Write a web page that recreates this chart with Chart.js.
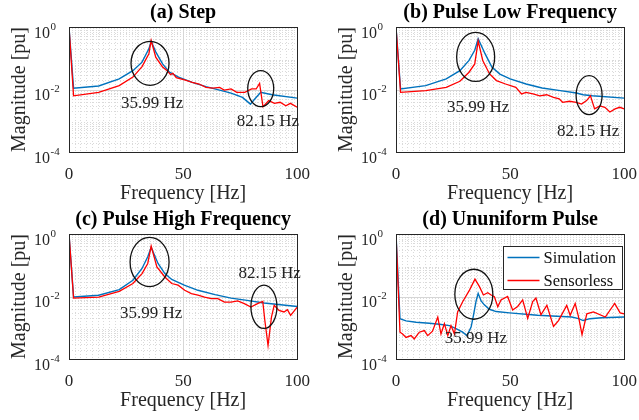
<!DOCTYPE html>
<html>
<head>
<script src="https://cdn.jsdelivr.net/npm/chart.js@4.4.0/dist/chart.umd.min.js"></script>
<style>
  html, body { margin: 0; padding: 0; background: #fff; overflow: hidden; width: 639px; height: 420px; }
  .panel { position: absolute; width: 322px; height: 207px; }
  #pa { left: 0; top: 0; }
  #pb { left: 327px; top: 0; }
  #pc { left: 0; top: 207px; }
  #pd { left: 327px; top: 207px; }
</style>
</head>
<body>
<div class="panel" id="pa"><canvas id="ca" width="322" height="207"></canvas></div>
<div class="panel" id="pb"><canvas id="cb" width="322" height="207"></canvas></div>
<div class="panel" id="pc"><canvas id="cc" width="322" height="207"></canvas></div>
<div class="panel" id="pd"><canvas id="cd" width="322" height="207"></canvas></div>
<script>
// ---- data (frequency in Hz, magnitude in pu) ----
const seriesNames = ["Simulation", "Sensorless"];

// (a) Step
const stepSimFreq = [0, 2, 13, 22, 28, 32, 35, 36, 38, 41, 44, 48, 54, 60, 66, 71, 76, 79.5, 81, 84, 89, 100];
const stepSimMag = [1, 0.011, 0.013, 0.022, 0.04, 0.075, 0.2, 0.35, 0.16, 0.066, 0.036, 0.025, 0.017, 0.0124, 0.0096, 0.0077, 0.0056, 0.0034, 0.0046, 0.0081, 0.0068, 0.0053];
const stepSenFreq = [0, 2, 13, 22, 28, 32, 35, 36, 38, 41, 43, 44.5, 45.5, 47, 51, 54, 57, 60, 63, 66, 68, 71, 73.5, 77, 80, 82, 83.5, 85, 87.5, 90, 92.5, 95, 97, 100];
const stepSenMag = [1, 0.0063, 0.0081, 0.0133, 0.025, 0.054, 0.14, 0.37, 0.108, 0.052, 0.04, 0.03, 0.033, 0.024, 0.02, 0.017, 0.015, 0.0117, 0.011, 0.0117, 0.0096, 0.0104, 0.0081, 0.0081, 0.0104, 0.0104, 0.0158, 0.0028, 0.0044, 0.0036, 0.0039, 0.003, 0.0036, 0.0027];

// (b) Pulse Low Frequency
const lowSimFreq = [0, 2, 13, 22, 28, 32, 34.5, 36, 39, 42, 45.5, 50, 57, 64, 72, 79, 82, 86, 100];
const lowSimMag = [1, 0.0104, 0.0133, 0.022, 0.04, 0.085, 0.18, 0.42, 0.14, 0.052, 0.031, 0.022, 0.015, 0.0112, 0.0092, 0.0077, 0.0068, 0.0063, 0.0053];
const lowSenFreq = [0, 2, 13, 22, 28, 32, 34.5, 36, 38, 41, 44, 48, 52.5, 55, 57, 60, 63, 66, 69, 71.5, 73, 76, 79, 81.3, 83.5, 85.2, 87, 89.3, 91.5, 93.7, 96, 98, 100];
const lowSenMag = [1, 0.0081, 0.0092, 0.0117, 0.0183, 0.0357, 0.066, 0.355, 0.085, 0.0315, 0.0193, 0.015, 0.0117, 0.0072, 0.0081, 0.0072, 0.0063, 0.0068, 0.0056, 0.005, 0.0039, 0.0042, 0.0039, 0.0034, 0.0044, 0.0063, 0.0024, 0.003, 0.0027, 0.0019, 0.0024, 0.0027, 0.0024];

// (c) Pulse High Frequency
const highSimFreq = [0, 2, 13, 22, 28, 32, 34.5, 36, 39, 42, 45, 50.5, 56.5, 64, 71, 78, 85.5, 100];
const highSimMag = [1, 0.0096, 0.011, 0.0166, 0.033, 0.079, 0.187, 0.372, 0.114, 0.054, 0.035, 0.023, 0.0158, 0.0115, 0.0089, 0.0075, 0.0062, 0.0048];
const highSenFreq = [0, 2, 13, 22, 28, 32, 34.5, 36, 38.5, 42, 45, 47.8, 50.7, 53.6, 56.5, 59.4, 62.3, 65.2, 68.1, 71, 73.9, 76.8, 79.7, 82.6, 84.9, 85.8, 87.2, 88.7, 89.9, 92, 94.2, 95.7, 97.1, 100];
const highSenMag = [1, 0.0089, 0.0096, 0.0147, 0.026, 0.054, 0.114, 0.41, 0.089, 0.042, 0.026, 0.023, 0.0158, 0.0123, 0.011, 0.0096, 0.0085, 0.0085, 0.0066, 0.0066, 0.0072, 0.0059, 0.0046, 0.0059, 0.007, 0.0017, 0.00027, 0.0022, 0.0052, 0.0036, 0.0032, 0.0038, 0.0025, 0.0046];

// (d) Ununiform Pulse
const unuSimFreq = [0, 1.75, 4.4, 8.8, 14.6, 19, 23.4, 26.3, 29.2, 31.1, 32.9, 33.9, 35.1, 36, 37.3, 38.7, 40.9, 43.9, 49.7, 62, 77, 80, 82, 85, 90, 100];
const unuSimMag = [1, 0.00195, 0.00166, 0.0015, 0.0014, 0.0013, 0.00117, 0.00093, 0.00072, 0.00056, 0.00105, 0.0024, 0.0072, 0.0126, 0.0072, 0.0054, 0.0039, 0.0033, 0.003, 0.0025, 0.0022, 0.00195, 0.0017, 0.00195, 0.0021, 0.0022];
const unuSenFreq = [0, 1.75, 2.9, 4.4, 6.6, 8, 10.2, 12.4, 13.9, 16, 18.3, 19.7, 21.2, 22.7, 24.1, 25.6, 27, 29.2, 32.2, 34.6, 36.5, 38.3, 40.2, 41.7, 43.1, 44.6, 46, 48.9, 51.1, 53.3, 55.5, 57.7, 59.9, 61.3, 63.5, 66.1, 69, 71.2, 74.8, 76.3, 78.5, 80, 81.5, 83.6, 86.5, 91.7, 95.8, 98.2, 100];
const unuSenMag = [1, 0.00072, 0.00063, 0.00049, 0.00056, 0.00044, 0.00072, 0.00081, 0.00056, 0.00078, 0.0022, 0.00063, 0.00135, 0.00056, 0.00117, 0.00063, 0.0032, 0.0068, 0.016, 0.036, 0.021, 0.0112, 0.0132, 0.0112, 0.0098, 0.0047, 0.0078, 0.01, 0.0037, 0.0048, 0.0078, 0.002, 0.0069, 0.0089, 0.0026, 0.0052, 0.0011, 0.0017, 0.0052, 0.0025, 0.006, 0.0022, 0.0006, 0.0028, 0.0032, 0.0022, 0.006, 0.003, 0.0028];

// axis ticks
const xTickValues = [0, 50, 100];
const yTickValues = [1e-4, 1e-2, 1];
const yTickExponents = ["-4", "-2", "0"];

const simColor = "#0072BD";
const senColor = "#FF0000";
const serif = "'Liberation Serif', 'Times New Roman', serif";
const axisInk = "#262626";

function pts(fs, ms) {
  return fs.map((f, i) => ({ x: f, y: ms[i] }));
}

// grid values: minor every 2.5 Hz, log minors 2..9 per decade
const xMinor = [];
for (let f = 2.5; f < 100; f += 2.5) if (f !== 50) xMinor.push(f);
const yMinor = [];
for (let e = -4; e < 0; e++) for (let k = 2; k <= 9; k++) yMinor.push(k * Math.pow(10, e));

const decor = {
  id: "decor",
  beforeDatasetsDraw(chart) {
    const { ctx, chartArea: a, scales: { x, y } } = chart;
    ctx.save();
    ctx.lineWidth = 1;
    ctx.strokeStyle = "#dadada";
    ctx.setLineDash([1, 2]);
    xMinor.forEach(f => {
      const px = Math.round(x.getPixelForValue(f)) + 0.5;
      ctx.beginPath(); ctx.moveTo(px, a.top); ctx.lineTo(px, a.bottom); ctx.stroke();
    });
    yMinor.forEach(v => {
      const py = Math.round(y.getPixelForValue(v)) + 0.5;
      ctx.beginPath(); ctx.moveTo(a.left, py); ctx.lineTo(a.right, py); ctx.stroke();
    });
    ctx.setLineDash([]);
    ctx.strokeStyle = "#d6d6d6";
    xTickValues.forEach(f => {
      const px = Math.round(x.getPixelForValue(f)) + 0.5;
      ctx.beginPath(); ctx.moveTo(px, a.top); ctx.lineTo(px, a.bottom); ctx.stroke();
    });
    yTickValues.forEach(v => {
      const py = Math.round(y.getPixelForValue(v)) + 0.5;
      ctx.beginPath(); ctx.moveTo(a.left, py); ctx.lineTo(a.right, py); ctx.stroke();
    });
    ctx.restore();
  },
  afterDraw(chart, args, opts) {
    const { ctx, chartArea: a, scales: { x, y } } = chart;
    ctx.save();
    // box
    ctx.strokeStyle = axisInk;
    ctx.lineWidth = 1;
    ctx.strokeRect(Math.round(a.left) + 0.5, Math.round(a.top) + 0.5, Math.round(a.right - a.left), Math.round(a.bottom - a.top));
    // title, centred over the plot
    ctx.fillStyle = "#000";
    ctx.font = "bold 20px " + serif;
    ctx.textAlign = "center";
    ctx.textBaseline = "middle";
    ctx.fillText(opts.title, (a.left + a.right) / 2, a.top - 14);
    // y tick labels 10^n
    ctx.fillStyle = axisInk;
    yTickValues.forEach((v, i) => {
      const py = y.getPixelForValue(v);
      ctx.font = "16px " + serif;
      ctx.textAlign = "right";
      ctx.textBaseline = "alphabetic";
      ctx.fillText("10", a.left - 19, py + 10.5);
      ctx.font = "11px " + serif;
      ctx.textAlign = "left";
      ctx.fillText(yTickExponents[i], a.left - 18.5, py + 2.5);
    });
    // ellipses
    ctx.strokeStyle = "#111";
    ctx.lineWidth = 1.3;
    (opts.ellipses || []).forEach(e => {
      ctx.beginPath();
      ctx.ellipse(x.getPixelForValue(e.f), y.getPixelForValue(e.m), e.rx, e.ry, 0, 0, Math.PI * 2);
      ctx.stroke();
    });
    // frequency labels
    ctx.fillStyle = "#222";
    ctx.font = "17px " + serif;
    ctx.textAlign = "center";
    ctx.textBaseline = "middle";
    (opts.labels || []).forEach(l => {
      ctx.fillText(l.text, x.getPixelForValue(l.f), y.getPixelForValue(l.m));
    });
    // legend
    if (opts.legend) {
      const bw = 119, bh = 43;
      const bx = Math.round(a.right) - bw - 2 + 0.5, by = Math.round(a.top) + 12 + 0.5;
      ctx.fillStyle = "#fff";
      ctx.fillRect(bx, by, bw, bh);
      ctx.strokeStyle = axisInk;
      ctx.lineWidth = 1;
      ctx.strokeRect(bx, by, bw, bh);
      chart.data.datasets.forEach((ds, i) => {
        const ly = by + 11 + i * 23;
        ctx.strokeStyle = ds.borderColor;
        ctx.lineWidth = 1.3;
        ctx.beginPath(); ctx.moveTo(bx + 4, ly); ctx.lineTo(bx + 36, ly); ctx.stroke();
        ctx.fillStyle = "#111";
        ctx.font = "16.5px " + serif;
        ctx.textAlign = "left";
        ctx.textBaseline = "middle";
        ctx.fillText(ds.label, bx + 40, ly + 1);
      });
    }
    ctx.restore();
  }
};

function makeChart(id, title, sim, sen, notes) {
  notes.title = title;
  return new Chart(document.getElementById(id), {
    type: "line",
    data: {
      datasets: [
        { label: seriesNames[0], data: sim, borderColor: simColor, borderWidth: 1.4, pointRadius: 0, tension: 0, order: 1 },
        { label: seriesNames[1], data: sen, borderColor: senColor, borderWidth: 1.3, pointRadius: 0, tension: 0, order: 0 }
      ]
    },
    options: {
      responsive: false,
      animation: false,
      layout: { padding: { left: 0, right: 0, top: 27, bottom: 0 } },
      plugins: {
        legend: { display: false },
        tooltip: { enabled: false },
        title: { display: false },
        decor: notes
      },
      scales: {
        x: {
          type: "linear",
          min: 0,
          max: 100,
          grid: { display: false, drawTicks: false },
          border: { display: false },
          ticks: { stepSize: 50, color: axisInk, font: { family: serif, size: 17 }, padding: 12, maxRotation: 0 },
          title: { display: true, text: "Frequency [Hz]", color: axisInk, font: { family: serif, size: 20 }, padding: { top: 0, bottom: 1 } },
          afterFit(s) { s.height = 55; }
        },
        y: {
          type: "logarithmic",
          min: 1e-4,
          max: 1,
          grid: { display: false, drawTicks: false },
          border: { display: false },
          ticks: { display: false },
          title: { display: true, text: "Magnitude [pu]", color: axisInk, font: { family: serif, size: 20 }, padding: { top: 8, bottom: 0 } },
          afterFit(s) { s.width = 69; }
        }
      }
    },
    plugins: [decor]
  });
}

makeChart("ca", "(a) Step", pts(stepSimFreq, stepSimMag), pts(stepSenFreq, stepSenMag), {
  ellipses: [{ f: 35.5, m: 0.069, rx: 19, ry: 22 }, { f: 84, m: 0.0107, rx: 13, ry: 18 }],
  labels: [{ f: 36.4, m: 0.0035, text: "35.99 Hz" }, { f: 87.1, m: 0.00093, text: "82.15 Hz" }]
});
makeChart("cb", "(b) Pulse Low Frequency", pts(lowSimFreq, lowSimMag), pts(lowSenFreq, lowSenMag), {
  ellipses: [{ f: 34.9, m: 0.11, rx: 19, ry: 24.5 }, { f: 84.6, m: 0.0066, rx: 13, ry: 19.5 }],
  labels: [{ f: 36, m: 0.0027, text: "35.99 Hz" }, { f: 84.2, m: 0.00046, text: "82.15 Hz" }]
});
makeChart("cc", "(c) Pulse High Frequency", pts(highSimFreq, highSimMag), pts(highSenFreq, highSenMag), {
  ellipses: [{ f: 35.3, m: 0.127, rx: 19.5, ry: 24.7 }, { f: 85.4, m: 0.0047, rx: 13, ry: 21.7 }],
  labels: [{ f: 36, m: 0.0029, text: "35.99 Hz" }, { f: 87.9, m: 0.055, text: "82.15 Hz" }]
});
makeChart("cd", "(d) Ununiform Pulse", pts(unuSimFreq, unuSimMag), pts(unuSenFreq, unuSenMag), {
  ellipses: [{ f: 34.1, m: 0.0118, rx: 19, ry: 25 }],
  labels: [{ f: 35, m: 0.00046, text: "35.99 Hz" }],
  legend: true
});
</script>
</body>
</html>
